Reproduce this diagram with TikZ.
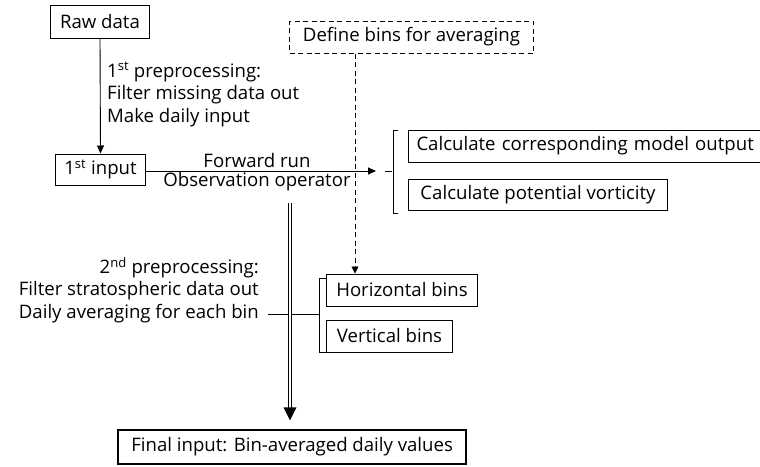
\documentclass[tikz,border=0pt]{standalone}
\usepackage{fontspec}
\setmainfont{Open Sans}
\usetikzlibrary{arrows.meta,calc}
\begin{document}
\begin{tikzpicture}[x=1pt,y=-1pt,
  every node/.style={font=\fontsize{18.6}{22.5}\selectfont},
  box/.style={draw, line width=1pt, inner sep=0pt, anchor=west},
  txt/.style={inner sep=0pt, align=left},
  conn/.style={line width=0.9pt},
  arr/.style={conn, -{Triangle[length=8pt,width=7pt]}},
  darr/.style={conn, dash pattern=on 5pt off 3.5pt, -{Triangle[length=7pt,width=7pt]}}
]
\useasboundingbox (0,0) rectangle (760,466);

% process boxes
\node[box, minimum width=99pt, minimum height=33pt] (raw) at (50,21.5) {Raw data};
\node[box, minimum width=90pt, minimum height=31pt] (in1) at (55,169.5) {1\textsuperscript{st} input};
\node[box, dashed, dash pattern=on 5pt off 3.5pt, minimum width=244pt, minimum height=32pt] (bins) at (289,37) {Define bins for averaging};
\node[box, minimum width=354pt, minimum height=32pt, text width=345pt, align=left, inner xsep=8pt] (calc1) at (408,146) {Calculate corresponding model output};
\node[box, minimum width=259pt, minimum height=31pt] (calc2) at (408,194.5) {Calculate potential vorticity};
\node[box, minimum width=151pt, minimum height=32pt] (hbin) at (326,290) {Horizontal bins};
\node[box, minimum width=126pt, minimum height=32pt] (vbin) at (326,336) {Vertical bins};
\node[box, line width=2.2pt, minimum width=348pt, minimum height=34pt] (final) at (117,447) {Final input: Bin-averaged daily values};

% labels
\node[txt, anchor=north west] (pre1) at (107,62) {1\textsuperscript{st} preprocessing:\\Filter missing data out\\Make daily input};
\node[txt, anchor=south] (fwd) at (257,168) {Forward run};
\node[txt, anchor=north] (obs) at (257,172) {Observation operator};
\node[txt, anchor=north east, align=right] (pre2) at (259,257) {2\textsuperscript{nd} preprocessing:\\Filter stratospheric data out\\Daily averaging for each bin};

% brackets and their stems
\coordinate (b1top) at (393,130);
\coordinate (b1bot) at (393,213);
\coordinate (b1mid) at (392,171);
\coordinate (b1tip) at (385,171);
\draw[conn] ($(b1top)+(5,0)$) -- (b1top) -- (b1bot) -- ++(5,0);
\draw[conn] (b1mid) -- (b1tip);

\coordinate (b2top) at (319,278);
\coordinate (b2bot) at (319,352);
\coordinate (b2mid) at (319,314);
\coordinate (stem2) at (268,314);
\draw[conn] ($(b2top)+(7,0)$) -- (b2top) -- (b2bot) -- ++(7,0);
\draw[conn] (stem2) -- (b2mid);

% connectors
\draw[arr] (raw.south) -- (in1.north);
\coordinate (fwdend) at (376,171);
\draw[arr] (in1.east |- fwdend) -- (fwdend);
\draw[darr] (bins.south -| 355,0) -- (hbin.north -| 355,0);

% double shaft into the final box
\coordinate (dtop) at (290,203);
\coordinate (dend) at (290,409);
\draw[line width=0.9pt, double distance=2.2pt] (dtop) -- (dend);
\fill ($(final.north -| dend)+(0,-8.5)$) -- ++(-6.5,-13) -- ++(13,0) -- cycle;
\end{tikzpicture}
\end{document}
